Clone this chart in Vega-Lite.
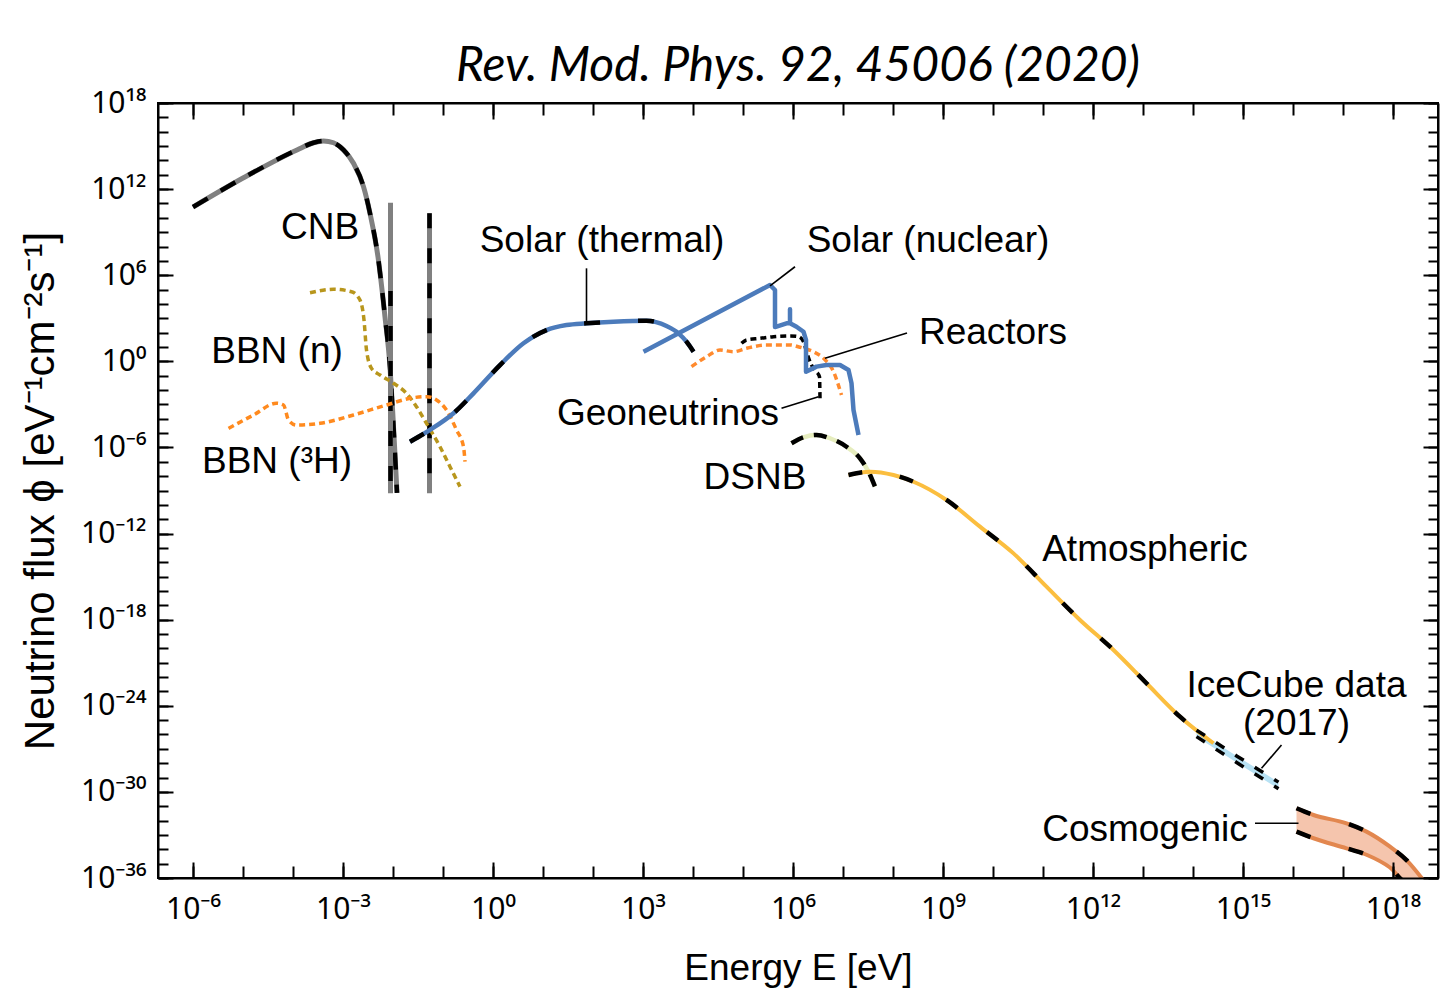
{
  "$schema": "https://vega.github.io/schema/vega-lite/v6.json",
  "width": 1280,
  "height": 775,
  "autosize": {"type": "none"},
  "padding": {"left": 158, "top": 103, "right": 14, "bottom": 118},
  "background": "white",
  "title": {
    "text": "Rev. Mod. Phys. 92, 45006 (2020)",
    "font": "Lato",
    "fontStyle": "italic",
    "fontWeight": "normal",
    "fontSize": 48,
    "color": "black",
    "anchor": "middle",
    "baseline": "alphabetic",
    "offset": 21,
    "dy": 62
  },
  "config": {
    "view": {"stroke": "black", "strokeWidth": 2},
    "axis": {
      "grid": false,
      "domainColor": "black",
      "domainWidth": 2,
      "tickColor": "black",
      "tickWidth": 2,
      "labelColor": "black",
      "labelFont": "Noto Sans",
      "labelFontSize": 30,
      "labelFlush": false,
      "labelOverlap": false,
      "titleFont": "Liberation Sans",
      "titleFontSize": 37,
      "titleFontWeight": "normal",
      "titleColor": "black"
    }
  },
  "datasets": {
    "cnb": [
      {"E": -6.0, "flux": 10.75}, {"E": -5.0, "flux": 12.77}, {"E": -3.92, "flux": 14.73},
      {"E": -3.59, "flux": 15.23}, {"E": -3.39, "flux": 15.35}, {"E": -3.19, "flux": 15.23},
      {"E": -2.99, "flux": 14.73}, {"E": -2.79, "flux": 13.8}, {"E": -2.59, "flux": 12.17},
      {"E": -2.46, "flux": 10.31}, {"E": -2.3, "flux": 7.27}, {"E": -2.16, "flux": 3.09},
      {"E": -2.06, "flux": -0.39}, {"E": -2.0, "flux": -3.88}, {"E": -1.92, "flux": -9.17}
    ],
    "cnb_delta": [
      {"E": -2.05, "flux": 11.05, "lo": -9.2, "dtop": 4.9},
      {"E": -1.27, "flux": 10.31, "lo": -9.2, "dtop": 10.31}
    ],
    "bbn_n": [
      {"E": -3.66, "flux": 4.78}, {"E": -3.19, "flux": 5.02}, {"E": -2.83, "flux": 4.85},
      {"E": -2.66, "flux": 4.27}, {"E": -2.58, "flux": 2.88}, {"E": -2.53, "flux": 0.79},
      {"E": -2.43, "flux": -0.49}, {"E": -2.26, "flux": -0.95}, {"E": -1.99, "flux": -1.53},
      {"E": -1.73, "flux": -2.23}, {"E": -1.53, "flux": -3.16}, {"E": -1.33, "flux": -4.32},
      {"E": -1.06, "flux": -5.95}, {"E": -0.86, "flux": -7.34}, {"E": -0.66, "flux": -8.73}
    ],
    "bbn_h3": [
      {"E": -5.29, "flux": -4.67}, {"E": -4.79, "flux": -3.74}, {"E": -4.33, "flux": -2.92},
      {"E": -4.19, "flux": -3.04}, {"E": -4.09, "flux": -4.09}, {"E": -3.93, "flux": -4.44},
      {"E": -3.46, "flux": -4.32}, {"E": -2.79, "flux": -3.74}, {"E": -2.13, "flux": -3.04},
      {"E": -1.59, "flux": -2.53}, {"E": -1.33, "flux": -2.46}, {"E": -1.13, "flux": -2.69},
      {"E": -0.93, "flux": -3.39}, {"E": -0.73, "flux": -4.78}, {"E": -0.59, "flux": -5.95},
      {"E": -0.56, "flux": -6.99}
    ],
    "solar_thermal": [
      {"E": -1.66, "flux": -5.6}, {"E": -1.26, "flux": -4.78}, {"E": -0.79, "flux": -3.62},
      {"E": -0.39, "flux": -2.23}, {"E": 0.14, "flux": -0.26}, {"E": 0.61, "flux": 1.26},
      {"E": 1.07, "flux": 2.18}, {"E": 1.47, "flux": 2.53}, {"E": 1.87, "flux": 2.65},
      {"E": 2.41, "flux": 2.76}, {"E": 3.07, "flux": 2.83}, {"E": 3.47, "flux": 2.46},
      {"E": 3.71, "flux": 1.95}, {"E": 3.87, "flux": 1.37}, {"E": 4.01, "flux": 0.67}
    ],
    "solar_nuclear": [
      {"i": 1, "E": 3.01, "flux": 0.67}, {"i": 2, "E": 5.54, "flux": 5.32},
      {"i": 3, "E": 5.64, "flux": 4.97}, {"i": 4, "E": 5.64, "flux": 2.39},
      {"i": 5, "E": 5.87, "flux": 2.65}, {"i": 6, "E": 5.94, "flux": 2.65},
      {"i": 7, "E": 5.94, "flux": 3.63}, {"i": 8, "E": 5.94, "flux": 2.65},
      {"i": 9, "E": 6.07, "flux": 2.41}, {"i": 10, "E": 6.21, "flux": 2.06},
      {"i": 11, "E": 6.26, "flux": 1.49}, {"i": 12, "E": 6.26, "flux": -0.72},
      {"i": 13, "E": 6.47, "flux": -0.37}, {"i": 14, "E": 6.67, "flux": -0.26},
      {"i": 15, "E": 6.94, "flux": -0.26}, {"i": 16, "E": 7.11, "flux": -0.6},
      {"i": 17, "E": 7.17, "flux": -1.53}, {"i": 18, "E": 7.21, "flux": -3.39},
      {"i": 19, "E": 7.31, "flux": -5.13}
    ],
    "geo": [
      {"E": 4.97, "flux": 1.26}, {"E": 5.07, "flux": 1.49}, {"E": 5.34, "flux": 1.6},
      {"E": 5.61, "flux": 1.72}, {"E": 5.94, "flux": 1.77}, {"E": 6.11, "flux": 1.72},
      {"E": 6.21, "flux": 1.37}, {"E": 6.27, "flux": 0.67}, {"E": 6.37, "flux": -0.26},
      {"E": 6.47, "flux": -0.72}, {"E": 6.53, "flux": -1.07}, {"E": 6.54, "flux": -2.58}
    ],
    "reactors": [
      {"E": 3.97, "flux": -0.37}, {"E": 4.27, "flux": 0.32}, {"E": 4.54, "flux": 0.79},
      {"E": 4.81, "flux": 0.67}, {"E": 5.07, "flux": 0.91}, {"E": 5.47, "flux": 1.14},
      {"E": 5.94, "flux": 1.14}, {"E": 6.14, "flux": 0.98}, {"E": 6.41, "flux": 0.67},
      {"E": 6.61, "flux": 0.21}, {"E": 6.81, "flux": -0.72}, {"E": 6.97, "flux": -2.35}
    ],
    "dsnb": [
      {"E": 5.97, "flux": -5.71}, {"E": 6.21, "flux": -5.29}, {"E": 6.47, "flux": -5.13},
      {"E": 6.74, "flux": -5.36}, {"E": 7.07, "flux": -5.95}, {"E": 7.34, "flux": -6.76},
      {"E": 7.51, "flux": -7.69}, {"E": 7.64, "flux": -8.73}
    ],
    "atmos": [
      {"E": 7.11, "flux": -7.92}, {"E": 7.54, "flux": -7.69}, {"E": 8.01, "flux": -7.92},
      {"E": 8.41, "flux": -8.39}, {"E": 9.07, "flux": -9.66}, {"E": 9.74, "flux": -11.52},
      {"E": 10.41, "flux": -13.38}, {"E": 11.07, "flux": -15.7}, {"E": 11.74, "flux": -18.02},
      {"E": 12.41, "flux": -20.11}, {"E": 13.07, "flux": -22.43}, {"E": 13.74, "flux": -24.76},
      {"E": 14.41, "flux": -26.61}
    ],
    "icecube": [
      {"E": 14.07, "flux": -25.7, "lo": -26.15},
      {"E": 14.88, "flux": -27.51, "lo": -27.97},
      {"E": 15.71, "flux": -29.32, "lo": -29.78}
    ],
    "cosmo": [
      {"E": 16.07, "flux": -31.14, "lo": -32.77},
      {"E": 16.41, "flux": -31.61, "lo": -33.23},
      {"E": 17.07, "flux": -32.19, "lo": -33.93},
      {"E": 17.47, "flux": -32.77, "lo": -34.38},
      {"E": 17.94, "flux": -33.82, "lo": -35.27},
      {"E": 18.27, "flux": -34.75, "lo": -36.3},
      {"E": 18.64, "flux": -36.3, "lo": -36.3}
    ],
    "leaders": [
      {"E": 1.87, "flux": 6.48, "E2": 1.87, "f2": 2.65},
      {"E": 6.04, "flux": 6.59, "E2": 5.54, "f2": 5.25},
      {"E": 8.28, "flux": 1.97, "E2": 6.64, "f2": 0.21},
      {"E": 5.77, "flux": -3.27, "E2": 6.51, "f2": -2.46},
      {"E": 15.77, "flux": -26.73, "E2": 15.37, "f2": -28.36},
      {"E": 15.24, "flux": -32.19, "E2": 16.11, "f2": -32.19}
    ],
    "labels": [
      {"E": -3.46, "flux": 9.29, "text": "CNB"},
      {"E": 2.18, "flux": 8.38, "text": "Solar (thermal)"},
      {"E": 8.7, "flux": 8.38, "text": "Solar (nuclear)"},
      {"E": 10.0, "flux": 1.97, "text": "Reactors"},
      {"E": -4.32, "flux": 0.65, "text": "BBN (n)"},
      {"E": 3.5, "flux": -3.67, "text": "Geoneutrinos"},
      {"E": -4.32, "flux": -7.01, "text": "BBN (³H)"},
      {"E": 5.24, "flux": -8.13, "text": "DSNB"},
      {"E": 13.04, "flux": -13.15, "text": "Atmospheric"},
      {"E": 16.07, "flux": -22.62, "text": "IceCube data\n(2017)"},
      {"E": 13.04, "flux": -32.66, "text": "Cosmogenic"}
    ]
  },
  "encoding": {
    "x": {"field": "E", "type": "quantitative", "scale": {"domain": [-6.7, 18.9], "nice": false, "zero": false}, "axis": null},
    "y": {"field": "flux", "type": "quantitative", "scale": {"domain": [-36, 18], "nice": false, "zero": false}, "axis": null}
  },
  "resolve": {"axis": {"x": "independent", "y": "independent"}},
  "layer": [
    {
      "data": {"name": "cosmo"},
      "mark": {"type": "area", "color": "#f5c5ad", "opacity": 1, "interpolate": "monotone", "clip": true},
      "encoding": {
        "x": {"field": "E", "type": "quantitative", "scale": {"domain": [-6.7, 18.9], "nice": false, "zero": false},
          "axis": {"orient": "bottom", "zindex": 1, "values": [-6, -3, 0, 3, 6, 9, 12, 15, 18], "tickSize": -16, "labelPadding": 32,
            "labelExpr": "['10⁻⁶','10⁻³','10⁰','10³','10⁶','10⁹','10¹²','10¹⁵','10¹⁸'][(datum.value+6)/3]",
            "title": "Energy E [eV]", "titlePadding": 26}},
        "y": {"field": "flux", "type": "quantitative", "scale": {"domain": [-36, 18], "nice": false, "zero": false},
          "axis": {"orient": "left", "zindex": 1, "values": [-36, -30, -24, -18, -12, -6, 0, 6, 12, 18], "tickSize": -15, "labelPadding": 27,
            "labelExpr": "['10⁻³⁶','10⁻³⁰','10⁻²⁴','10⁻¹⁸','10⁻¹²','10⁻⁶','10⁰','10⁶','10¹²','10¹⁸'][(datum.value+36)/6]",
            "title": "Neutrino flux ϕ [eV⁻¹cm⁻²s⁻¹]", "titleFontSize": 42, "titlePadding": 18}},
        "y2": {"field": "lo"}
      }
    },
    {
      "data": {"name": "icecube"},
      "mark": {"type": "area", "color": "#b8e2f4", "opacity": 1},
      "encoding": {
        "x": {"field": "E", "type": "quantitative", "scale": {"domain": [-6.7, 18.9], "nice": false, "zero": false},
          "axis": {"orient": "bottom", "zindex": 1, "values": [-6, -5, -4, -3, -2, -1, 0, 1, 2, 3, 4, 5, 6, 7, 8, 9, 10, 11, 12, 13, 14, 15, 16, 17, 18],
            "tickSize": -12, "labels": false, "domain": false, "title": null}},
        "y": {"field": "flux", "type": "quantitative", "scale": {"domain": [-36, 18], "nice": false, "zero": false},
          "axis": {"orient": "left", "zindex": 1, "values": [-36, -35, -34, -33, -32, -31, -30, -29, -28, -27, -26, -25, -24, -23, -22, -21, -20, -19, -18, -17, -16, -15, -14, -13, -12, -11, -10, -9, -8, -7, -6, -5, -4, -3, -2, -1, 0, 1, 2, 3, 4, 5, 6, 7, 8, 9, 10, 11, 12, 13, 14, 15, 16, 17, 18],
            "tickSize": -10, "labels": false, "domain": false, "title": null}},
        "y2": {"field": "lo"}
      }
    },
    {
      "data": {"name": "cnb"},
      "mark": {"type": "line", "color": "#808080", "strokeWidth": 5, "interpolate": "monotone"},
      "encoding": {
        "x": {"field": "E", "type": "quantitative", "scale": {"domain": [-6.7, 18.9], "nice": false, "zero": false},
          "axis": {"orient": "top", "zindex": 1, "values": [-6, -3, 0, 3, 6, 9, 12, 15, 18], "tickSize": -16, "labels": false, "title": null}},
        "y": {"field": "flux", "type": "quantitative", "scale": {"domain": [-36, 18], "nice": false, "zero": false},
          "axis": {"orient": "right", "zindex": 1, "values": [-36, -30, -24, -18, -12, -6, 0, 6, 12, 18], "tickSize": -15, "labels": false, "title": null}}
      }
    },
    {
      "data": {"name": "cnb"},
      "mark": {"type": "line", "color": "black", "strokeWidth": 4.5, "strokeDash": [17, 15], "interpolate": "monotone"},
      "encoding": {
        "x": {"field": "E", "type": "quantitative", "scale": {"domain": [-6.7, 18.9], "nice": false, "zero": false},
          "axis": {"orient": "top", "zindex": 1, "values": [-6, -5, -4, -3, -2, -1, 0, 1, 2, 3, 4, 5, 6, 7, 8, 9, 10, 11, 12, 13, 14, 15, 16, 17, 18],
            "tickSize": -12, "labels": false, "domain": false, "title": null}},
        "y": {"field": "flux", "type": "quantitative", "scale": {"domain": [-36, 18], "nice": false, "zero": false},
          "axis": {"orient": "right", "zindex": 1, "values": [-36, -35, -34, -33, -32, -31, -30, -29, -28, -27, -26, -25, -24, -23, -22, -21, -20, -19, -18, -17, -16, -15, -14, -13, -12, -11, -10, -9, -8, -7, -6, -5, -4, -3, -2, -1, 0, 1, 2, 3, 4, 5, 6, 7, 8, 9, 10, 11, 12, 13, 14, 15, 16, 17, 18],
            "tickSize": -10, "labels": false, "domain": false, "title": null}}
      }
    },
    {
      "data": {"name": "cnb_delta"},
      "mark": {"type": "rule", "color": "#808080", "strokeWidth": 5},
      "encoding": {"y2": {"field": "lo"}}
    },
    {
      "data": {"name": "cnb_delta"},
      "mark": {"type": "rule", "color": "black", "strokeWidth": 4.5, "strokeDash": [15, 20]},
      "encoding": {
        "y": {"field": "dtop", "type": "quantitative", "scale": {"domain": [-36, 18], "nice": false, "zero": false}, "axis": null},
        "y2": {"field": "lo"}
      }
    },
    {
      "data": {"name": "bbn_n"},
      "mark": {"type": "line", "color": "#b8961c", "strokeWidth": 3.5, "strokeDash": [6, 4], "interpolate": "monotone"}
    },
    {
      "data": {"name": "bbn_h3"},
      "mark": {"type": "line", "color": "#ff8a1e", "strokeWidth": 3.5, "strokeDash": [6, 4], "interpolate": "monotone"}
    },
    {
      "data": {"name": "solar_thermal"},
      "mark": {"type": "line", "color": "#4c7bbb", "strokeWidth": 4.5, "interpolate": "monotone"}
    },
    {
      "data": {"name": "solar_thermal"},
      "mark": {"type": "line", "color": "black", "strokeWidth": 4.5, "strokeDash": [16, 38], "interpolate": "monotone"}
    },
    {
      "data": {"name": "reactors"},
      "mark": {"type": "line", "color": "#ff8a2e", "strokeWidth": 3.5, "strokeDash": [6, 4], "interpolate": "monotone"}
    },
    {
      "data": {"name": "geo"},
      "mark": {"type": "line", "color": "black", "strokeWidth": 3.5, "strokeDash": [6, 4], "interpolate": "monotone"}
    },
    {
      "data": {"name": "solar_nuclear"},
      "mark": {"type": "line", "color": "#4c7bbb", "strokeWidth": 4.5, "strokeJoin": "round"},
      "encoding": {"order": {"field": "i", "type": "quantitative"}}
    },
    {
      "data": {"name": "dsnb"},
      "mark": {"type": "line", "color": "#e6edbe", "strokeWidth": 4.5, "interpolate": "monotone"}
    },
    {
      "data": {"name": "dsnb"},
      "mark": {"type": "line", "color": "black", "strokeWidth": 4.5, "strokeDash": [13, 11], "interpolate": "monotone"}
    },
    {
      "data": {"name": "atmos"},
      "mark": {"type": "line", "color": "#fbbe3f", "strokeWidth": 4, "interpolate": "monotone"}
    },
    {
      "data": {"name": "atmos"},
      "mark": {"type": "line", "color": "black", "strokeWidth": 4.5, "strokeDash": [14, 38], "interpolate": "monotone"}
    },
    {
      "data": {"name": "icecube"},
      "mark": {"type": "line", "color": "black", "strokeWidth": 3.5, "strokeDash": [10, 13]}
    },
    {
      "data": {"name": "icecube"},
      "mark": {"type": "line", "color": "black", "strokeWidth": 3.5, "strokeDash": [10, 13]},
      "encoding": {"y": {"field": "lo", "type": "quantitative", "scale": {"domain": [-36, 18], "nice": false, "zero": false}, "axis": null}}
    },
    {
      "data": {"name": "cosmo"},
      "mark": {"type": "line", "color": "#e2874f", "strokeWidth": 4, "interpolate": "monotone", "clip": true}
    },
    {
      "data": {"name": "cosmo"},
      "mark": {"type": "line", "color": "#e2874f", "strokeWidth": 4, "interpolate": "monotone", "clip": true},
      "encoding": {"y": {"field": "lo", "type": "quantitative", "scale": {"domain": [-36, 18], "nice": false, "zero": false}, "axis": null}}
    },
    {
      "data": {"name": "cosmo"},
      "mark": {"type": "line", "color": "black", "strokeWidth": 4.5, "strokeDash": [15, 40], "interpolate": "monotone", "clip": true}
    },
    {
      "data": {"name": "cosmo"},
      "mark": {"type": "line", "color": "black", "strokeWidth": 4.5, "strokeDash": [15, 40], "interpolate": "monotone", "clip": true},
      "encoding": {"y": {"field": "lo", "type": "quantitative", "scale": {"domain": [-36, 18], "nice": false, "zero": false}, "axis": null}}
    },
    {
      "data": {"name": "leaders"},
      "mark": {"type": "rule", "color": "black", "strokeWidth": 1.6},
      "encoding": {"x2": {"field": "E2"}, "y2": {"field": "f2"}}
    },
    {
      "data": {"name": "labels"},
      "mark": {"type": "text", "font": "Liberation Sans", "fontSize": 37, "color": "black", "align": "center", "baseline": "middle", "lineBreak": "\n", "lineHeight": 38},
      "encoding": {"text": {"field": "text", "type": "nominal"}}
    }
  ]
}
